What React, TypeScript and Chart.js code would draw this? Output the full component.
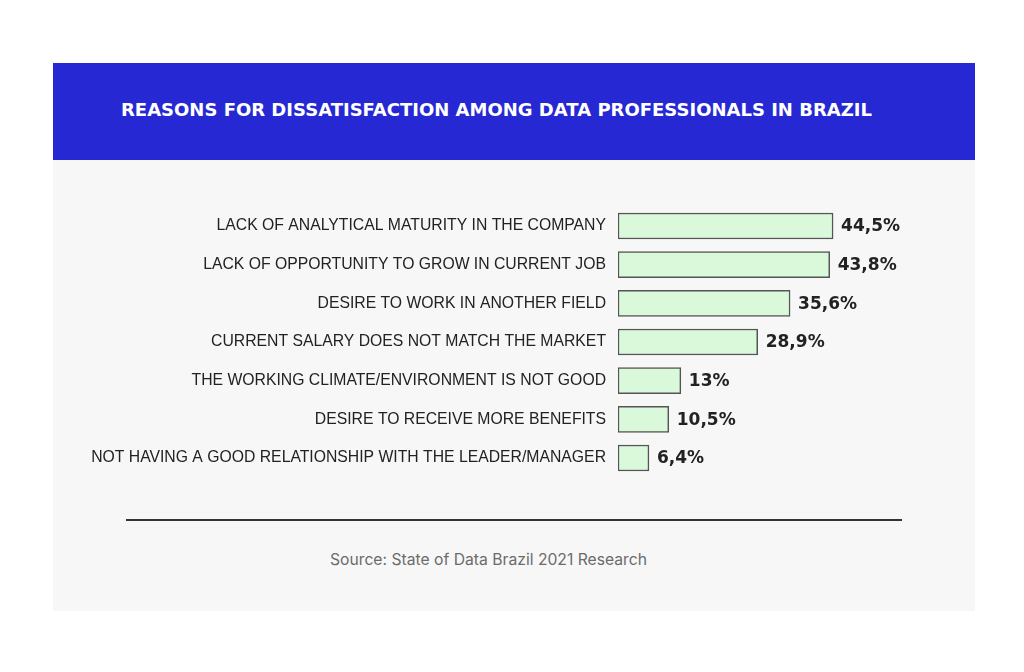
import React, { useEffect, useRef } from "react";
import { Chart, registerables } from "chart.js";

Chart.register(...registerables);

const categories = [
  "LACK OF ANALYTICAL MATURITY IN THE COMPANY",
  "LACK OF OPPORTUNITY TO GROW IN CURRENT JOB",
  "DESIRE TO WORK IN ANOTHER FIELD",
  "CURRENT SALARY DOES NOT MATCH THE MARKET",
  "THE WORKING CLIMATE/ENVIRONMENT IS NOT GOOD",
  "DESIRE TO RECEIVE MORE BENEFITS",
  "NOT HAVING A GOOD RELATIONSHIP WITH THE LEADER/MANAGER",
];
const values = [44.5, 43.8, 35.6, 28.9, 13, 10.5, 6.4];
const valueLabels = ["44,5%", "43,8%", "35,6%", "28,9%", "13%", "10,5%", "6,4%"];

const title = "REASONS FOR DISSATISFACTION AMONG DATA PROFESSIONALS IN BRAZIL";
const source = "Source: State of Data Brazil 2021 Research";

const valueLabelPlugin = {
  id: "valueLabels",
  afterDatasetsDraw(chart: any) {
    const ctx = chart.ctx;
    const meta = chart.getDatasetMeta(0);
    ctx.save();
    ctx.font = "bold 17px 'DejaVu Sans', sans-serif";
    ctx.fillStyle = "#222222";
    ctx.textAlign = "left";
    ctx.textBaseline = "middle";
    meta.data.forEach((bar: any, i: number) => {
      ctx.fillText(valueLabels[i], bar.x + 8, bar.y + 1);
    });
    ctx.restore();
  },
};

export default function App() {
  const ref = useRef<HTMLCanvasElement>(null);
  useEffect(() => {
    if (!ref.current) return;
    const chart = new Chart(ref.current, {
      type: "bar",
      data: {
        labels: categories,
        datasets: [
          {
            data: values,
            backgroundColor: "#d9f9da",
            borderColor: "#555555",
            borderWidth: 1.5,
            borderSkipped: false,
            barThickness: 26,
          },
        ],
      },
      options: {
        indexAxis: "y",
        animation: false,
        responsive: false,
        maintainAspectRatio: false,
        layout: { padding: { left: 0, right: 67, top: 6.7, bottom: 2.7 } },
        plugins: { legend: { display: false }, tooltip: { enabled: false } },
        scales: {
          x: { display: false, min: 0, max: 60 },
          y: {
            grid: { display: false, drawTicks: false },
            border: { display: false },
            ticks: {
              padding: 12,
              color: "#222222",
              font: { family: "'Liberation Sans', Arial, sans-serif", size: 15.75 },
            },
            afterFit(scale: any) {
              scale.width = 565;
              scale.paddingTop = 0;
              scale.paddingBottom = 0;
            },
          },
        },
      },
      plugins: [valueLabelPlugin],
    });
    return () => chart.destroy();
  }, []);

  return (
    <div style={{ position: "absolute", left: 0, top: 0, width: 1024, height: 672, background: "#ffffff" }}>
      <div
        style={{
          position: "absolute",
          left: 53,
          top: 63,
          width: 922,
          height: 548,
          background: "#f7f7f7",
        }}
      />
      <div
        style={{
          position: "absolute",
          left: 53,
          top: 63,
          width: 922,
          height: 97,
          background: "#2628d4",
        }}
      />
      <div
        style={{
          position: "absolute",
          left: 121,
          top: 98,
          height: 24,
          lineHeight: "24px",
          color: "#ffffff",
          fontFamily: "'DejaVu Sans', sans-serif",
          fontWeight: 700,
          fontSize: 18,
          whiteSpace: "nowrap",
        }}
      >
        {title}
      </div>
      <canvas
        ref={ref}
        width={922}
        height={280}
        style={{ position: "absolute", left: 53, top: 200, width: 922, height: 280 }}
      />
      <div
        style={{
          position: "absolute",
          left: 126,
          top: 519,
          width: 776,
          height: 2,
          background: "#333333",
        }}
      />
      <div
        style={{
          position: "absolute",
          left: 53,
          top: 549,
          width: 922,
          textAlign: "center",
          paddingRight: 51,
          boxSizing: "border-box",
          lineHeight: "22px",
          color: "#6b6b6b",
          fontFamily: "Inter, 'Liberation Sans', sans-serif",
          fontSize: 15.7,
        }}
      >
        {source}
      </div>
    </div>
  );
}
